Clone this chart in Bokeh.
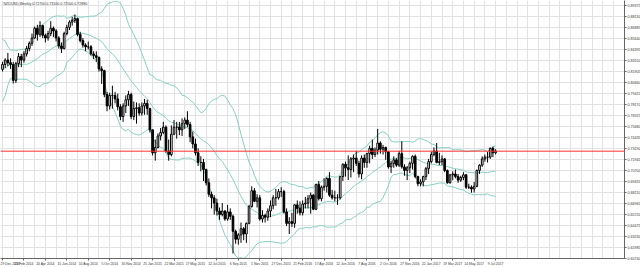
import numpy as np
from bokeh.plotting import figure
from bokeh.models import FixedTicker, Label, Span, NumeralTickFormatter
from bokeh.embed import file_html
from bokeh.resources import INLINE

symbol = "NZDUSD,Weekly"
first_open = 0.8215

# 19 weekly closes before the first visible bar (Bollinger warm-up)
warmup_closes = [0.7830, 0.7750, 0.7920, 0.8150, 0.8380, 0.8260, 0.8260, 0.8370, 0.8450, 0.8320,
                 0.8250, 0.8260, 0.8300, 0.8150, 0.8130, 0.8300, 0.8310, 0.8180, 0.8210]

closes = [
    # 2014
    0.8270, 0.8320, 0.8290, 0.8270, 0.8090, 0.8280, 0.8360, 0.8320, 0.8390, 0.8450,
    0.8510, 0.8570, 0.8680, 0.8610, 0.8710, 0.8600, 0.8570, 0.8620, 0.8680, 0.8650,
    0.8570, 0.8480, 0.8450, 0.8620, 0.8690, 0.8750, 0.8770, 0.8790, 0.8610, 0.8540,
    0.8490, 0.8470, 0.8470, 0.8390, 0.8370, 0.8350, 0.8220, 0.8200, 0.7930, 0.7800,
    0.7920, 0.7920, 0.7880, 0.7790, 0.7680, 0.7800, 0.7870, 0.7930, 0.7680, 0.7770,
    0.7780, 0.7720,
    # 2015
    0.7800, 0.7830, 0.7770, 0.7530, 0.7270, 0.7330, 0.7460, 0.7500, 0.7560, 0.7290,
    0.7250, 0.7480, 0.7560, 0.7560, 0.7530, 0.7600, 0.7640, 0.7590, 0.7450, 0.7370,
    0.7270, 0.7160, 0.7160, 0.7080, 0.6930, 0.6800, 0.6760, 0.6700, 0.6610, 0.6570,
    0.6610, 0.6520, 0.6600, 0.6550, 0.6380, 0.6290, 0.6340, 0.6410, 0.6350, 0.6470,
    0.6660, 0.6840, 0.6720, 0.6760, 0.6520, 0.6560, 0.6540, 0.6610, 0.6670, 0.6760,
    0.6760, 0.6830, 0.6830,
    # 2016
    0.6600, 0.6470, 0.6490, 0.6470, 0.6680, 0.6640, 0.6590, 0.6690, 0.6700, 0.6750,
    0.6790, 0.6630, 0.6910, 0.6750, 0.6880, 0.6890, 0.6980, 0.6790, 0.6760, 0.6760,
    0.6760, 0.7000, 0.7140, 0.7100, 0.7080, 0.7200, 0.7210, 0.7150, 0.7030, 0.7210,
    0.7160, 0.7260, 0.7320, 0.7250, 0.7300, 0.7380, 0.7310, 0.7330, 0.7280, 0.7110,
    0.7150, 0.7190, 0.7130, 0.7260, 0.7110, 0.7070, 0.7100, 0.7150, 0.7230, 0.7000,
    0.6920, 0.6940,
    # 2017
    0.7000, 0.7090, 0.7170, 0.7250, 0.7290, 0.7160, 0.7170, 0.7200, 0.7070, 0.6930,
    0.7020, 0.7030, 0.7000, 0.6960, 0.6990, 0.7020, 0.6880, 0.6880, 0.6860, 0.6890,
    0.7070, 0.7130, 0.7200, 0.7220, 0.7220, 0.7320, 0.7270, 0.7288,
]

highs = [
    0.8300, 0.8340, 0.8400, 0.8340, 0.8300, 0.8300, 0.8400, 0.8390, 0.8420, 0.8480,
    0.8530, 0.8620, 0.8700, 0.8720, 0.8760, 0.8720, 0.8620, 0.8650, 0.8760, 0.8700,
    0.8670, 0.8590, 0.8520, 0.8640, 0.8720, 0.8770, 0.8810, 0.8836, 0.8800, 0.8640,
    0.8570, 0.8510, 0.8530, 0.8490, 0.8420, 0.8420, 0.8360, 0.8250, 0.8210, 0.7960,
    0.7950, 0.8030, 0.7960, 0.7940, 0.7820, 0.7830, 0.7920, 0.7970, 0.7950, 0.7850,
    0.7840, 0.7830,
    0.7840, 0.7880, 0.7870, 0.7780, 0.7530, 0.7420, 0.7490, 0.7550, 0.7620, 0.7580,
    0.7420, 0.7580, 0.7640, 0.7620, 0.7620, 0.7660, 0.7670, 0.7740, 0.7620, 0.7510,
    0.7430, 0.7320, 0.7230, 0.7200, 0.7090, 0.6980, 0.6830, 0.6790, 0.6750, 0.6650,
    0.6700, 0.6620, 0.6680, 0.6640, 0.6570, 0.6400, 0.6360, 0.6480, 0.6430, 0.6480,
    0.6680, 0.6890, 0.6870, 0.6800, 0.6790, 0.6620, 0.6580, 0.6640, 0.6730, 0.6790,
    0.6860, 0.6860, 0.6880,
    0.6850, 0.6640, 0.6540, 0.6590, 0.6690, 0.6730, 0.6720, 0.6730, 0.6770, 0.6790,
    0.6820, 0.6800, 0.6920, 0.6950, 0.6900, 0.6980, 0.6990, 0.7050, 0.6850, 0.6840,
    0.6800, 0.7010, 0.7150, 0.7170, 0.7240, 0.7220, 0.7250, 0.7290, 0.7180, 0.7240,
    0.7250, 0.7270, 0.7350, 0.7420, 0.7330, 0.7540, 0.7400, 0.7360, 0.7340, 0.7290,
    0.7180, 0.7230, 0.7210, 0.7290, 0.7400, 0.7140, 0.7120, 0.7170, 0.7240, 0.7250,
    0.7010, 0.6970,
    0.7010, 0.7110, 0.7200, 0.7280, 0.7330, 0.7380, 0.7270, 0.7240, 0.7210, 0.7080,
    0.7030, 0.7060, 0.7080, 0.7030, 0.7010, 0.7050, 0.7030, 0.6920, 0.6900, 0.6940,
    0.7080, 0.7140, 0.7230, 0.7250, 0.7280, 0.7330, 0.7340, 0.7310,
]

lows = [
    0.8190, 0.8230, 0.8250, 0.8220, 0.8055, 0.8060, 0.8240, 0.8240, 0.8290, 0.8360,
    0.8420, 0.8480, 0.8560, 0.8540, 0.8580, 0.8570, 0.8520, 0.8540, 0.8590, 0.8580,
    0.8530, 0.8450, 0.8400, 0.8440, 0.8600, 0.8660, 0.8710, 0.8740, 0.8590, 0.8520,
    0.8460, 0.8420, 0.8440, 0.8370, 0.8330, 0.8300, 0.8190, 0.8050, 0.7900, 0.7740,
    0.7760, 0.7770, 0.7830, 0.7750, 0.7640, 0.7620, 0.7720, 0.7800, 0.7650, 0.7640,
    0.7600, 0.7690,
    0.7690, 0.7700, 0.7700, 0.7500, 0.7240, 0.7180, 0.7320, 0.7410, 0.7480, 0.7270,
    0.7180, 0.7230, 0.7470, 0.7430, 0.7470, 0.7460, 0.7540, 0.7560, 0.7390, 0.7320,
    0.7240, 0.7120, 0.7060, 0.6950, 0.6900, 0.6770, 0.6640, 0.6570, 0.6560, 0.6510,
    0.6550, 0.6500, 0.6500, 0.6510, 0.6129, 0.6240, 0.6230, 0.6250, 0.6280, 0.6250,
    0.6460, 0.6650, 0.6710, 0.6650, 0.6500, 0.6480, 0.6480, 0.6500, 0.6540, 0.6630,
    0.6670, 0.6740, 0.6770,
    0.6580, 0.6440, 0.6350, 0.6430, 0.6420, 0.6580, 0.6560, 0.6560, 0.6640, 0.6640,
    0.6580, 0.6620, 0.6620, 0.6730, 0.6720, 0.6840, 0.6820, 0.6770, 0.6740, 0.6720,
    0.6680, 0.6740, 0.6950, 0.7000, 0.6960, 0.6990, 0.7050, 0.7120, 0.6990, 0.6970,
    0.7100, 0.7100, 0.7150, 0.7200, 0.7220, 0.7250, 0.7260, 0.7250, 0.7190, 0.7090,
    0.7040, 0.7100, 0.7110, 0.7110, 0.7090, 0.7010, 0.6960, 0.7040, 0.7080, 0.6980,
    0.6890, 0.6890,
    0.6890, 0.6960, 0.7030, 0.7150, 0.7230, 0.7150, 0.7130, 0.7130, 0.7050, 0.6920,
    0.6920, 0.6960, 0.6980, 0.6930, 0.6940, 0.6960, 0.6860, 0.6860, 0.6818, 0.6820,
    0.6880, 0.7030, 0.7110, 0.7170, 0.7160, 0.7200, 0.7220, 0.7250,
]

x_tick_bars = [0, 8, 16, 24, 32, 40, 48, 56, 64, 72, 80, 88, 96, 104, 112, 120,
               128, 136, 144, 152, 160, 168, 176, 184]
x_tick_labels = ["29 Dec 2013", "23 Feb 2014", "20 Apr 2014", "15 Jun 2014", "10 Aug 2014",
                 "5 Oct 2014", "30 Nov 2014", "25 Jan 2015", "22 Mar 2015", "17 May 2015",
                 "12 Jul 2015", "6 Sep 2015", "1 Nov 2015", "27 Dec 2015", "21 Feb 2016",
                 "17 Apr 2016", "12 Jun 2016", "7 Aug 2016", "2 Oct 2016", "27 Nov 2016",
                 "22 Jan 2017", "19 Mar 2017", "14 May 2017", "9 Jul 2017"]
y_tick_values = [0.60740, 0.61985, 0.63230, 0.64475, 0.65720, 0.66965, 0.68210, 0.69455,
                 0.70700, 0.71945, 0.73190, 0.74435, 0.75680, 0.76925, 0.78170, 0.79415,
                 0.80660, 0.81905, 0.83150, 0.84395, 0.85640, 0.86885, 0.88130, 0.89375]

# ---------------------------------------------------------------------------
n = len(closes)
idx = np.arange(n)
c = np.array(closes)
o = np.array([first_open] + closes[:-1])
h = np.maximum(np.array(highs), np.maximum(o, c))
l = np.minimum(np.array(lows), np.minimum(o, c))

# Bollinger bands (20, 2) on closes
allc = np.array(warmup_closes + closes)
period = 20
mid, up, dn = [], [], []
for i in range(len(warmup_closes), len(allc)):
    win = allc[i - period + 1:i + 1]
    m = win.mean()
    s = win.std()
    mid.append(m); up.append(m + 2 * s); dn.append(m - 2 * s)

X_START, X_END = -0.75, 232.1
Y_BOTTOM, Y_TOP = 0.60725, 0.89946
FONT = "Liberation Sans"
FS_Y = "3.6px"
FS_X = "3.4px"

p = figure(frame_width=624, frame_height=258, x_range=(X_START, X_END), y_range=(Y_BOTTOM, Y_TOP),
           output_backend="svg", toolbar_location=None, y_axis_location="right",
           min_border_left=0, min_border_top=0, min_border_right=16, min_border_bottom=9,
           background_fill_color="white", border_fill_color="white", outline_line_color=None)

grid_color = "#e2e2e2"
p.xgrid.ticker = FixedTicker(ticks=list(range(0, 233, 4)))
p.xgrid.grid_line_color = grid_color
p.ygrid.grid_line_color = grid_color

ya = p.yaxis[0]
ya.ticker = FixedTicker(ticks=y_tick_values)
ya.formatter = NumeralTickFormatter(format="0.00000")
ya.major_label_text_font_size = FS_Y
ya.major_label_text_font = FONT
ya.major_label_text_color = "#333333"
ya.major_tick_out = 2
ya.major_tick_in = 0
ya.minor_tick_out = 0
ya.minor_tick_in = 0
ya.major_label_standoff = 1
ya.axis_line_color = "#666666"
ya.major_tick_line_color = "#666666"

xa = p.xaxis[0]
xa.ticker = FixedTicker(ticks=x_tick_bars)
xa.major_label_overrides = {b: t for b, t in zip(x_tick_bars, x_tick_labels)}
xa.major_label_text_font_size = FS_X
xa.major_label_text_font = FONT
xa.major_label_text_color = "#333333"
xa.major_label_text_align = "left"
xa.major_tick_out = 2
xa.major_tick_in = 0
xa.minor_tick_out = 0
xa.minor_tick_in = 0
xa.major_label_standoff = 1
xa.axis_line_color = "#666666"
xa.major_tick_line_color = "#666666"

band_color = "#86cfc4"
p.line(idx, up, line_color=band_color, line_width=1)
p.line(idx, mid, line_color=band_color, line_width=1)
p.line(idx, dn, line_color=band_color, line_width=1)

p.segment(x0=idx, y0=l, x1=idx, y1=h, line_color="black", line_width=1)
bull = c >= o
bear = ~bull
p.vbar(x=idx[bull], width=0.62, top=c[bull], bottom=o[bull],
       fill_color="white", line_color="black", line_width=1)
p.vbar(x=idx[bear], width=0.62, top=o[bear], bottom=c[bear],
       fill_color="black", line_color="black", line_width=1)

last = closes[-1]
p.add_layout(Span(location=last, dimension="width", line_color="#ff3030", line_width=1))
p.add_layout(Label(x=X_END, y=last, text=f"{last:.5f}", text_font_size=FS_Y, text_font=FONT,
                   text_color="white", background_fill_color="#ff0000", text_baseline="middle",
                   text_align="left", x_offset=1))

title = f"{symbol}  {o[-1]:.5f} {h[-1]:.5f} {l[-1]:.5f} {c[-1]:.5f}"
p.add_layout(Label(x=X_START, y=Y_TOP, text=title, text_font_size=FS_Y, text_font=FONT,
                   text_color="#333333", text_baseline="top", x_offset=3, y_offset=-1))

open("out.html", "w").write(file_html(p, INLINE))
